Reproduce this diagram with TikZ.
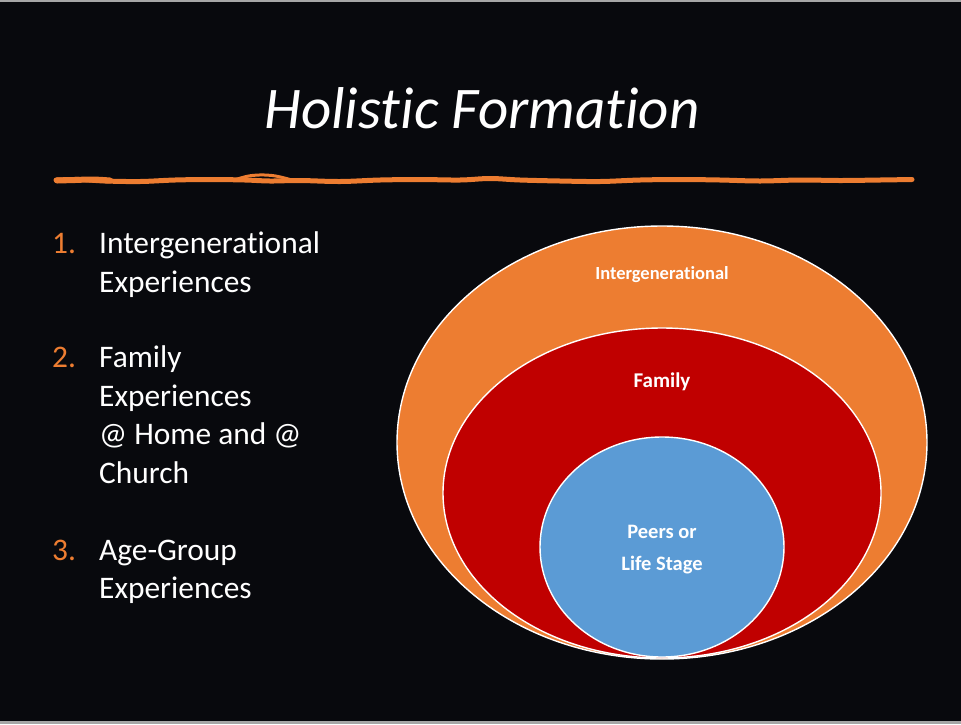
\documentclass[tikz,border=0pt]{standalone}
\usepackage{fontspec}
\setmainfont{Carlito}[Ligatures={NoCommon,NoRare,NoContextual}, Contextuals={NoAlternate}]
\newcommand{\nolig}{\kern0pt }
\definecolor{bg}{HTML}{08090D}
\definecolor{ppOrange}{HTML}{ED7D31}
\definecolor{ppRed}{HTML}{C00000}
\definecolor{ppBlue}{HTML}{5B9BD5}
\tikzset{
  listtxt/.style={anchor=base west, text=white, inner sep=0pt, font=\fontsize{31.4}{38}\selectfont},
  listnum/.style={anchor=base west, text=ppOrange, inner sep=0pt, font=\fontsize{31.4}{38}\selectfont},
  ring/.style={draw=white, line width=1.4pt},
  lbl/.style={text=white, inner sep=0pt, anchor=base, font=\bfseries\fontsize{18.5}{22}\selectfont},
}
\begin{document}
\begin{tikzpicture}[x=1pt,y=-1pt]
\useasboundingbox (0,0) rectangle (961,724);
\fill[gray!70] (0,0) rectangle (961,724);
\fill[bg] (0,1.5) rectangle (961,721);
% title
\node[anchor=base, text=white, inner sep=0pt, font=\itshape\fontsize{59}{70}\selectfont] (title) at (482,128) {Holist\nolig ic Format\nolig ion};
% squiggle
\draw[ppOrange, line width=5pt, line cap=round] plot[smooth, tension=0.6] coordinates {(56,180) (80,179.5) (105,181) (140,181.5) (175,180) (210,179.5) (245,180) (270,181) (300,180.5) (340,181.5) (380,180) (420,179.5) (460,180) (490,178.5) (520,180) (560,181) (600,181.5) (640,180) (680,179.5) (720,180) (760,181) (800,180) (840,180.5) (880,180) (912,179.5)};
\draw[ppOrange, line width=3pt, line cap=round] plot[smooth, tension=0.7] coordinates {(236,179.5) (252,175.5) (272,175.5) (290,179.5)};
\draw[ppOrange, line width=6pt, line cap=round] plot[smooth, tension=0.7] coordinates {(57,180.5) (75,180) (92,179.5) (110,180.5)};
% list
\node[listnum] (n1) at (52,253) {1.};
\node[listtxt] (t1a) at (99,253) {Intergenerat\nolig ional};
\node[listtxt] (t1b) at (99,292) {Experiences};
\node[listnum] (n2) at (52,367) {2.};
\node[listtxt] (t2a) at (99,367) {Family};
\node[listtxt] (t2b) at (99,406) {Experiences};
\node[listtxt] (t2c) at (99,444) {@ Home and @};
\node[listtxt] (t2d) at (99,483) {Church};
\node[listnum] (n3) at (52,560) {3.};
\node[listtxt] (t3a) at (99,560) {Age-Group};
\node[listtxt] (t3b) at (99,598) {Experiences};
% nested ellipses
\draw[ring, fill=ppOrange] (662,442.5) ellipse [x radius=265, y radius=216.5];
\draw[ring, fill=ppRed] (662,493) ellipse [x radius=219, y radius=165];
\draw[ring, fill=ppBlue] (662,547) ellipse [x radius=122, y radius=110];
\node[lbl] (l1) at (662,279) {Intergenerat\nolig ional};
\node[lbl, font=\bfseries\fontsize{21}{24}\selectfont] (l2) at (662,387) {Family};
\node[lbl, font=\bfseries\fontsize{20.5}{24}\selectfont] (l3a) at (662,538) {Peers or};
\node[lbl, font=\bfseries\fontsize{20.5}{24}\selectfont] (l3b) at (662,570) {Life Stage};
\end{tikzpicture}
\end{document}
